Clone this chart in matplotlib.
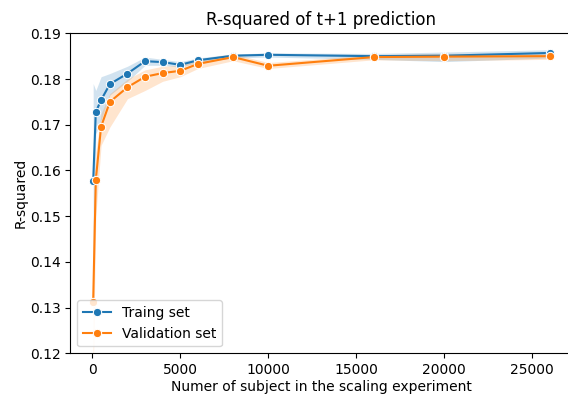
import matplotlib
matplotlib.use("Agg")
import matplotlib.pyplot as plt

# Data
subjects = [50, 200, 500, 1000, 2000, 3000, 4000, 5000, 6000, 8000, 10000, 16000, 20000, 26000]

train = [0.1576, 0.1728, 0.1754, 0.1789, 0.1812, 0.1839, 0.1837, 0.1831, 0.1841, 0.1851, 0.1853, 0.1850, 0.1851, 0.1857]
train_lo = [0.138, 0.168, 0.171, 0.1765, 0.1795, 0.1830, 0.1830, 0.1826, 0.1836, 0.1846, 0.1848, 0.1843, 0.1838, 0.1846]
train_hi = [0.179, 0.1775, 0.1805, 0.1812, 0.1828, 0.1848, 0.1843, 0.1838, 0.1846, 0.1855, 0.1857, 0.1856, 0.1859, 0.1864]

val = [0.1313, 0.1580, 0.1696, 0.1750, 0.1782, 0.1805, 0.1813, 0.1818, 0.1833, 0.1848, 0.1829, 0.1848, 0.1849, 0.1850]
val_lo = [0.115, 0.150, 0.1655, 0.1695, 0.1757, 0.1775, 0.1795, 0.1805, 0.1823, 0.1840, 0.1823, 0.1842, 0.1840, 0.1843]
val_hi = [0.148, 0.1640, 0.1725, 0.1768, 0.1800, 0.1820, 0.1828, 0.1830, 0.1843, 0.1855, 0.1836, 0.1853, 0.1856, 0.1856]

fig = plt.figure(figsize=(5.68, 3.94), dpi=100)
ax = fig.add_axes([70.3 / 568, 40.7 / 394, 502.4 / 568, 320 / 394])

blue = "#1f77b4"
orange = "#ff7f0e"

ax.fill_between(subjects, train_lo, train_hi, color=blue, alpha=0.2, linewidth=0)
ax.plot(subjects, train, color=blue, marker="o", markersize=6,
        markeredgecolor="white", markeredgewidth=0.75, label="Traing set")
ax.fill_between(subjects, val_lo, val_hi, color=orange, alpha=0.2, linewidth=0)
ax.plot(subjects, val, color=orange, marker="o", markersize=6,
        markeredgecolor="white", markeredgewidth=0.75, label="Validation set")

ax.set_xlim(-1250, 27300)
ax.set_ylim(0.12, 0.19)
ax.set_xticks([0, 5000, 10000, 15000, 20000, 25000])
ax.set_title("R-squared of t+1 prediction")
ax.set_xlabel("Numer of subject in the scaling experiment", labelpad=1.8)
ax.set_ylabel("R-squared", labelpad=1.5)
ax.legend(loc="lower left")

fig.savefig("out.png", dpi=100)
